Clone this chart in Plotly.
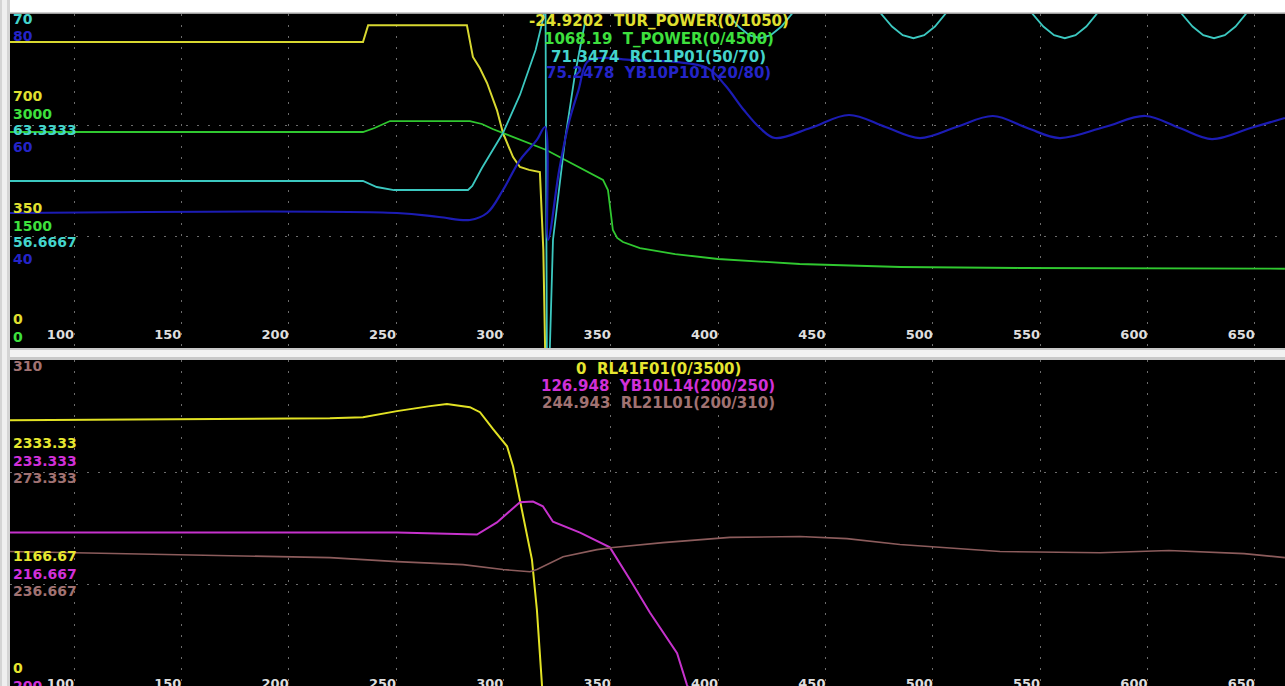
import plotly.graph_objects as go

# ---------------- data ----------------
x_ticks = [100, 150, 200, 250, 300, 350, 400, 450, 500, 550, 600, 650]
x_tick_text = [str(v) for v in x_ticks]
x_range = [70.19, 664.05]

# top panel series
top_names = ["TUR_POWER", "T_POWER", "RC11P01", "YB10P101"]
top_current = ["-24.9202", "1068.19", "71.3474", "75.2478"]
top_lo = [0, 0, 50, 20]
top_hi = [1050, 4500, 70, 80]
top_colors = ["#d8d830", "#30c830", "#3cc8c0", "#1c1cb4"]
top_text_colors = ["#e0e030", "#3ee03e", "#44d4cc", "#2424c8"]

tur_x = [70.2, 234.6, 237.0, 283.0, 285.8, 289.0, 292.4, 297.0, 299.8, 304.5, 307.7,
         312.0, 317.0, 318.6, 319.5, 330.0, 664.0]
tur_y = [962, 962, 1015, 1015, 915, 880, 833, 748, 676, 600, 569,
         560, 553, 308, -25, -25, -24.9]

tp_x = [70.2, 234.6, 240.0, 247.2, 284.4, 290.0, 295.0, 299.8, 320.0, 346.4, 348.7,
        351.0, 353.0, 355.7, 363.6, 380.0, 400.0, 438.0, 485.0, 540.0, 664.0]
tp_y = [2910, 2910, 2964, 3058, 3058, 3018, 2951, 2897, 2668, 2264, 2129,
        1590, 1482, 1428, 1347, 1266, 1199, 1132, 1091, 1078, 1068]

rc_x = [70.2, 234.6, 241.0, 249.0, 283.5, 285.5, 290.0, 295.2, 299.8, 307.7, 315.0,
        318.6, 319.6, 320.3, 321.2, 323.1, 328.7, 333.3, 338.9, 345.0, 360.0, 375.0,
        385.0, 395.0, 404.5, 409.5, 414.5, 419.5, 424.5, 429.5, 434.5, 439.5, 444.5,
        455.0, 466.0, 471.0, 476.0, 481.0, 486.0, 491.0, 496.0, 501.0, 506.0, 511.0,
        516.0, 526.0, 536.5, 541.5, 546.5, 551.5, 556.5, 561.5, 566.5, 571.5, 576.5,
        581.5, 586.5, 596.0, 606.0, 611.0, 616.0, 621.0, 626.0, 631.0, 636.0, 641.0,
        646.0, 651.0, 656.0, 664.0]
rc_y = [60.0, 60.0, 59.64, 59.46, 59.46, 59.70, 60.78, 61.86, 62.87, 65.15, 67.84,
        69.76, 71.1, 48.0, 48.0, 56.47, 62.46, 66.35, 70.1, 71.6, 72.3, 72.2,
        71.6, 70.84, 70.0, 69.25, 68.73, 68.55, 68.73, 69.25, 70.0, 70.84, 71.59,
        72.29, 71.59, 70.84, 70.0, 69.25, 68.73, 68.55, 68.73, 69.25, 70.0, 70.84,
        71.59, 72.29, 71.59, 70.84, 70.0, 69.25, 68.73, 68.55, 68.73, 69.25, 70.0,
        70.84, 71.59, 72.29, 71.59, 70.84, 70.0, 69.25, 68.73, 68.55, 68.73, 69.25,
        70.0, 70.84, 71.59, 72.1]

bl_x = [70.2, 250.4, 270.0, 284.4, 292.4, 299.8, 307.7, 315.6, 319.4, 320.8, 326.0,
        330.8, 335.0, 339.0, 345.0, 360.0, 380.0, 395.0, 403.2, 412.0, 419.5, 426.5,
        443.0, 461.0, 478.0, 494.0, 511.0, 528.0, 544.0, 559.0, 580.0, 599.0, 615.0,
        630.0, 648.0, 664.0]
bl_y = [44.25, 44.25, 43.53, 43.0, 44.25, 48.38, 53.77, 57.37, 59.70, 39.4, 51.98,
        60.96, 66.35, 71.38, 72.1, 71.7, 71.4, 70.3, 67.25, 62.75, 59.52, 57.72,
        59.52, 61.86, 59.70, 57.72, 59.70, 61.68, 59.52, 57.72, 59.70, 61.68, 59.52,
        57.54, 59.52, 61.32]

# bottom panel series
bot_names = ["RL41F01", "YB10L14", "RL21L01"]
bot_current = ["0", "126.948", "244.943"]
bot_lo = [0, 200, 200]
bot_hi = [3500, 250, 310]
bot_colors = ["#e2e224", "#c632cc", "#8c5c5c"]
bot_text_colors = ["#e6e630", "#d030d8", "#a07272"]

rl41_x = [70.2, 219.2, 234.6, 250.4, 265.8, 273.7, 284.4, 289.1, 295.2, 298.4, 301.7,
          304.5, 307.7, 311.0, 313.3, 315.6, 317.0, 318.0, 318.5, 664.0]
rl41_y = [2875, 2896, 2906, 2969, 3021, 3042, 3010, 2958, 2781, 2698, 2604,
          2396, 2052, 1708, 1427, 906, 385, 115, 0, 0]

yb_x = [70.2, 219.2, 250.4, 287.7, 297.0, 307.7, 313.8, 318.4, 321.7, 323.1, 335.7,
        349.6, 359.0, 368.3, 380.9, 385.5, 391.6, 400.0, 430.0, 480.0, 664.0]
yb_y = [224.4, 224.4, 224.4, 224.1, 225.9, 228.9, 229.0, 228.3, 226.8, 226.0, 224.4,
        222.2, 217.4, 212.5, 206.5, 201.8, 198.0, 190.0, 160.0, 127.0, 126.9]

rl21_x = [70.2, 219.2, 250.4, 281.2, 299.8, 312.4, 315.6, 327.8, 343.6, 351.0, 374.3,
          405.5, 438.1, 460.0, 484.7, 531.3, 577.9, 610.0, 645.0, 664.0]
rl21_y = [247.5, 245.5, 244.2, 243.2, 241.6, 240.9, 241.6, 245.8, 248.1, 248.8, 250.4,
          252.1, 252.4, 251.7, 249.8, 247.5, 247.1, 247.8, 246.8, 245.5]

# ---------------- layout geometry (pixels) ----------------
W, H = 1285, 700
TOP_T, TOP_B = 14, 348
BOT_T, BOT_B = 360, 697
LEFT = 10


def fy(p):
    return 1 - p / H


def fx(p):
    return p / W


FONT = "DejaVu Sans"
GRID = "#6c6c6c"
DASH = "2px,9px"

fig = go.Figure()

top_series = [(tur_x, tur_y), (tp_x, tp_y), (rc_x, rc_y), (bl_x, bl_y)]
top_axes = ["y", "y2", "y3", "y4"]
top_widths = [2, 1.8, 1.8, 2.2]
for (xs, ys), ax, col, w in zip(top_series, top_axes, top_colors, top_widths):
    shape = "spline" if ax == "y4" else "linear"
    fig.add_trace(go.Scatter(x=xs, y=ys, xaxis="x", yaxis=ax, mode="lines",
                             line=dict(color=col, width=w, shape=shape),
                             hoverinfo="skip"))

bot_series = [(rl41_x, rl41_y), (yb_x, yb_y), (rl21_x, rl21_y)]
bot_axes = ["y5", "y6", "y7"]
bot_widths = [2, 2, 1.6]
for (xs, ys), ax, col, w in zip(bot_series, bot_axes, bot_colors, bot_widths):
    fig.add_trace(go.Scatter(x=xs, y=ys, xaxis="x2", yaxis=ax, mode="lines",
                             line=dict(color=col, width=w),
                             hoverinfo="skip"))

xcommon = dict(range=x_range, domain=[fx(LEFT), 1], tickvals=x_ticks, ticktext=x_tick_text,
               ticks="", ticklabelposition="inside left", showgrid=True, gridcolor=GRID,
               griddash=DASH, gridwidth=1, zeroline=False, showline=False,
               tickfont=dict(family=FONT, size=13, color="#dedede", weight="bold"))

top_dom = [fy(TOP_B), fy(TOP_T)]
bot_dom = [fy(BOT_B), fy(BOT_T)]


def thirds(lo, hi):
    return [lo + (hi - lo) / 3, lo + 2 * (hi - lo) / 3]


layout = dict(
    width=W, height=H, margin=dict(l=0, r=0, t=0, b=0, pad=0),
    paper_bgcolor="white", plot_bgcolor="black", showlegend=False, hovermode=False,
    xaxis=dict(anchor="y", **xcommon),
    xaxis2=dict(anchor="y5", **xcommon),
    yaxis=dict(domain=top_dom, anchor="x", range=[top_lo[0], top_hi[0]],
               tickvals=thirds(top_lo[0], top_hi[0]), showticklabels=False, ticks="",
               showgrid=True, gridcolor=GRID, griddash=DASH, zeroline=False),
    yaxis5=dict(domain=bot_dom, anchor="x2", range=[bot_lo[0], bot_hi[0]],
                tickvals=thirds(bot_lo[0], bot_hi[0]), showticklabels=False, ticks="",
                showgrid=True, gridcolor=GRID, griddash=DASH, zeroline=False),
)
for i in range(1, 4):
    layout["yaxis%d" % (i + 1)] = dict(overlaying="y", anchor="x", visible=False,
                                       range=[top_lo[i], top_hi[i]])
for i in range(1, 3):
    layout["yaxis%d" % (i + 5)] = dict(overlaying="y5", anchor="x2", visible=False,
                                       range=[bot_lo[i], bot_hi[i]])
fig.update_layout(**layout)

annotations = []

# scale labels on the left side
top_offsets = [-29, -11, 5, 22]
for i in range(4):
    for k in range(4):
        g = TOP_T + k * (TOP_B - TOP_T) / 3
        ypix = g + top_offsets[i]
        if ypix < 16 or ypix > 345:
            continue
        val = top_lo[i] + (top_hi[i] - top_lo[i]) * (3 - k) / 3
        annotations.append(dict(x=fx(LEFT + 1), y=fy(ypix), xref="paper", yref="paper",
                                text=f"{val:g}", showarrow=False, xanchor="left",
                                yanchor="middle",
                                font=dict(family=FONT, size=14, color=top_text_colors[i],
                                          weight="bold")))
bot_offsets = [-29, -11, 6]
for i in range(3):
    for k in range(4):
        g = BOT_T + k * (BOT_B - BOT_T) / 3
        ypix = g + bot_offsets[i]
        if ypix < 362 or ypix > 700:
            continue
        val = bot_lo[i] + (bot_hi[i] - bot_lo[i]) * (3 - k) / 3
        annotations.append(dict(x=fx(LEFT + 1), y=fy(ypix), xref="paper", yref="paper",
                                text=f"{val:g}", showarrow=False, xanchor="left",
                                yanchor="middle",
                                font=dict(family=FONT, size=14, color=bot_text_colors[i],
                                          weight="bold")))

# legends (current value + tag + range)
top_rows = [21, 39, 57, 73]
for i in range(4):
    annotations.append(dict(x=fx(659), y=fy(top_rows[i]), xref="paper", yref="paper",
                            text=f"{top_current[i]}  {top_names[i]}({top_lo[i]:g}/{top_hi[i]:g})",
                            showarrow=False, xanchor="center", yanchor="middle",
                            font=dict(family=FONT, size=15, color=top_text_colors[i],
                                      weight="bold")))
bot_rows = [369, 386, 403]
for i in range(3):
    annotations.append(dict(x=fx(658), y=fy(bot_rows[i]), xref="paper", yref="paper",
                            text=f"{bot_current[i]}  {bot_names[i]}({bot_lo[i]:g}/{bot_hi[i]:g})",
                            showarrow=False, xanchor="center", yanchor="middle",
                            font=dict(family=FONT, size=15, color=bot_text_colors[i],
                                      weight="bold")))
fig.update_layout(annotations=annotations)

shapes = [
    # separator between the panels
    dict(type="rect", xref="paper", yref="paper", x0=0, x1=1, y0=fy(BOT_T), y1=fy(TOP_B),
         fillcolor="#c8c8c8", line=dict(width=0), layer="above"),
    dict(type="rect", xref="paper", yref="paper", x0=0, x1=1, y0=fy(357), y1=fy(350),
         fillcolor="#f2f2f2", line=dict(width=0), layer="above"),
    # left frame
    dict(type="rect", xref="paper", yref="paper", x0=0, x1=fx(LEFT), y0=0, y1=1,
         fillcolor="#d4d4d4", line=dict(width=0), layer="above"),
    dict(type="rect", xref="paper", yref="paper", x0=fx(2), x1=fx(7), y0=0, y1=1,
         fillcolor="#efefef", line=dict(width=0), layer="above"),
    # top edge
    dict(type="rect", xref="paper", yref="paper", x0=fx(LEFT), x1=1, y0=fy(TOP_T),
         y1=fy(TOP_T - 1.5), fillcolor="#9c9c9c", line=dict(width=0), layer="above"),
]
fig.update_layout(shapes=shapes)

fig.write_html("out.html", config={"displayModeBar": False},
               post_script="document.body.style.margin='0';document.body.style.overflow='hidden';")
